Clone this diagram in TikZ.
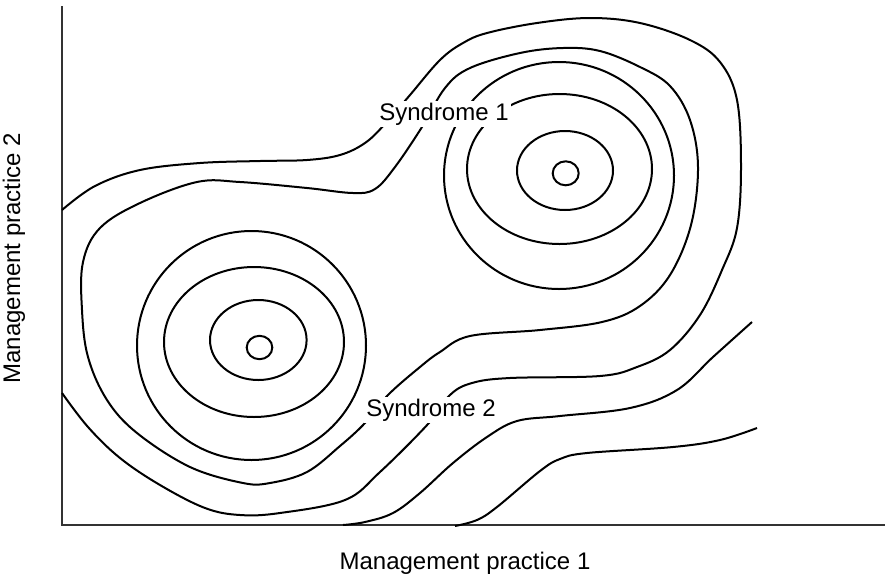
\documentclass[tikz,border=0pt]{standalone}
\usepackage{fontspec}
\setmainfont{Liberation Sans}

\begin{document}
\begin{tikzpicture}[x=0.75pt,y=0.75pt,yscale=-1,xscale=1,
		isoline/.style={line width=1.5pt, black, line join=round},
		axisline/.style={line width=1pt, black!80},
		peaklabel/.style={fill=white, inner sep=1.5pt, anchor=base, font=\fontsize{18}{21}\selectfont},
		axislabel/.style={inner sep=0pt, anchor=base, font=\fontsize{18}{21}\selectfont}]
		% Set diagram left start at 0, width 889 and height 576
		\useasboundingbox (0,0) rectangle (889,576);

		% Draw the two axes
		\draw[axisline] (62,6) -- (62,525) -- (885,525);

		% Rings round the first peak (upper right)
		\draw[isoline] (565.7,173.3) ellipse [x radius=13, y radius=12];
		\draw[isoline] (565,170.5) ellipse [x radius=48, y radius=39.5];
		\draw[isoline] (559.5,169) ellipse [x radius=92.5, y radius=75];
		\draw[isoline] (559,175.5) ellipse [x radius=115, y radius=113.5];

		% Rings round the second peak (lower left)
		\draw[isoline] (259.5,347.5) ellipse [x radius=12.8, y radius=11.7];
		\draw[isoline] (258.3,340) ellipse [x radius=48.3, y radius=40];
		\draw[isoline] (254,342) ellipse [x radius=90, y radius=75];
		\draw[isoline] (251.5,345.5) ellipse [x radius=114.5, y radius=114.5];

		% The closed line that holds both peaks
		\draw[isoline] plot[smooth cycle, tension=0.6] coordinates {
			(422,127) (445,88) (470,68) (520,53) (563,48) (600,51) (640,67)
			(670,86) (690,120) (698,167) (691,225) (670,275) (640,306)
			(602,322) (540,330) (470,336) (440,352) (420,367) (388,395) (365,423)
			(340,446) (307,472) (270,483) (243,483) (190,467) (137,433)
			(107,400) (88,357) (82,310) (83,262) (100,228) (140,203)
			(197,182) (240,182) (307,188) (353,193) (375,189) (395,167)};

		% The outer line, from the vertical axis back to it
		\draw[isoline] plot[smooth, tension=0.6] coordinates {
			(62,210) (95,186) (140,170) (200,163) (260,161) (307,160) (340,155)
			(365,143) (385,124) (410,95) (440,60) (463,43) (487,33) (537,23)
			(590,18) (640,23) (690,40) (720,62) (737,100) (741,167)
			(737,228) (722,270) (700,315) (670,350) (637,367)
			(600,376) (510,378) (472,383) (450,395) (428,424) (380,472)
			(345,500) (280,513) (240,515) (205,508) (160,485)
			(120,458) (88,427) (62,393)};

		% The two open lines down to the horizontal axis
		\draw[isoline] plot[smooth, tension=0.6] coordinates {
			(752,322) (713,357) (677,390) (630,408) (560,416) (517,421)
			(487,437) (453,463) (420,493) (393,513) (365,522) (343,525)};
		\draw[isoline] plot[smooth, tension=0.6] coordinates {
			(757,428) (720,440) (673,447) (587,453) (560,459) (540,471)
			(497,507) (477,520) (455,526)};

		% Names of the two peaks
		\node[peaklabel] (syn1) at (444,120) {Syndrome 1};
		\node[peaklabel] (syn2) at (431,416) {Syndrome 2};

		% Names of the axes
		\node[axislabel] (xname) at (465,569) {Management practice 1};
		\node[axislabel, rotate=90] (yname) at (20,258) {Management practice 2};
	\end{tikzpicture}
\end{document}
